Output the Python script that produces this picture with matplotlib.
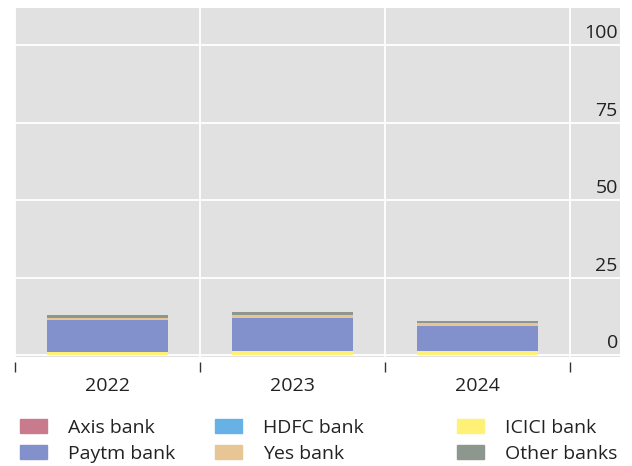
import matplotlib.pyplot as plt
import numpy as np
from matplotlib.patches import Patch

plt.rcParams['font.family'] = ['Open Sans', 'DejaVu Sans']

years = ["2022", "2023", "2024"]
banks = ["Axis bank", "HDFC bank", "ICICI bank", "Paytm bank", "Yes bank", "Other banks"]
axis_bank = [0.0, 0.0, 0.0]
hdfc_bank = [0.0, 0.1, 0.0]
icici_bank = [1.0, 1.3, 1.4]
paytm_bank = [10.3, 10.6, 8.0]
yes_bank = [0.6, 0.9, 0.9]
other_banks = [1.0, 1.0, 0.7]
y_ticks = [0, 25, 50, 75, 100]

colors = ["#c97b8d", "#66b2e6", "#fff176", "#8291cc", "#e8c595", "#8e978e"]
series = [axis_bank, hdfc_bank, icici_bank, paytm_bank, yes_bank, other_banks]

fig = plt.figure(figsize=(6.32, 4.66), dpi=100)
ax = fig.add_axes([15 / 632, 1 - 357 / 466, 605 / 632, 349 / 466])
ax.set_facecolor("#e1e1e1")

x = np.arange(len(years)) + 0.5
bottom = np.zeros(len(years))
# stack from ICICI upward like the original
order = [2, 0, 1, 3, 4, 5]
for i in order:
    vals = np.array(series[i])
    ax.bar(x, vals, width=0.65, bottom=bottom, color=colors[i], linewidth=0, zorder=3)
    bottom += vals

ax.set_xlim(0, 605 / 185)
ax.set_ylim(-0.6, 112)

# gridlines
ax.set_yticks(y_ticks)
ax.set_xticks([0, 1, 2, 3])
ax.grid(True, color="white", linewidth=1.3, zorder=1)
ax.set_axisbelow(True)
ax.tick_params(axis="y", length=0, labelleft=False)
ax.tick_params(axis="x", which="major", length=7.5, width=1, color="#333333",
               direction="out", labelbottom=False)
ax.set_xticks(x, minor=True)
ax.set_xticklabels(years, minor=True)
ax.tick_params(axis="x", which="minor", length=0, pad=11, labelsize=14, labelcolor="#222222")
for s in ["top", "right", "left"]:
    ax.spines[s].set_visible(False)
ax.spines["bottom"].set_position(("outward", 3.6))
ax.spines["bottom"].set_visible(False)

xmax = ax.get_xlim()[1]
for v in y_ticks:
    ax.text(xmax - 0.012, v + 1.0, str(v), ha="right", va="bottom",
            fontsize=14, color="#222222", zorder=4)

# legend in three columns
cols = [(0, 3), (1, 4), (2, 5)]
xpos = [20 / 632, 215 / 632, 457 / 632]
for (a, b), xp in zip(cols, xpos):
    handles = [Patch(color=colors[a]), Patch(color=colors[b])]
    leg = fig.legend(handles, [banks[a], banks[b]], loc="upper left",
                     bbox_to_anchor=(xp, 1 - 419 / 466), frameon=False,
                     fontsize=14, handlelength=1.4, handleheight=0.72,
                     handletextpad=1.05, labelspacing=0.42, borderpad=0,
                     borderaxespad=0)
    for t in leg.get_texts():
        t.set_color("#222222")

fig.savefig("out.png", dpi=100)
